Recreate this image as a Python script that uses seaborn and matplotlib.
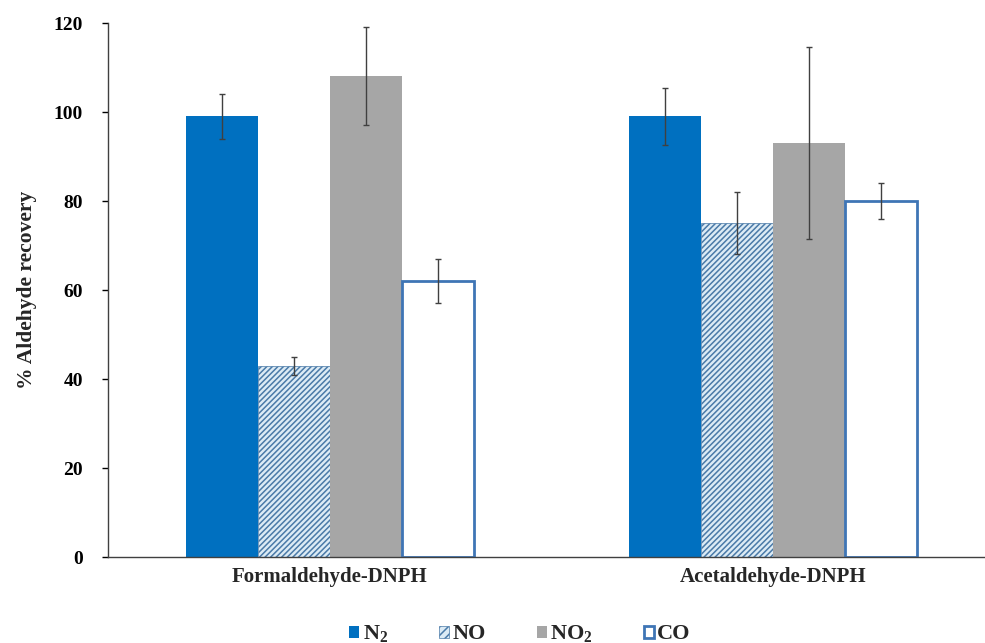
import matplotlib
matplotlib.use("Agg")
import matplotlib.pyplot as plt
import seaborn as sns
import pandas as pd
import numpy as np
from matplotlib.patches import Patch

categories = ["Formaldehyde-DNPH", "Acetaldehyde-DNPH"]
series = ["N$_2$", "NO", "NO$_2$", "CO"]
n2_vals = [99, 99]
no_vals = [43, 75]
no2_vals = [108, 93]
co_vals = [62, 80]
n2_err = [5, 6.5]
no_err = [2, 7]
no2_err = [11, 21.5]
co_err = [5, 4]
yticks = [0, 20, 40, 60, 80, 100, 120]

vals = [n2_vals, no_vals, no2_vals, co_vals]
errs = [n2_err, no_err, no2_err, co_err]
rows = []
for s, v, e in zip(series, vals, errs):
    for c, vv, ee in zip(categories, v, e):
        rows.append({"cat": c, "gas": s, "val": vv, "err": ee})
df = pd.DataFrame(rows)

sns.set_style("white")
plt.rcParams['font.family'] = ['Liberation Serif', 'DejaVu Serif']
plt.rcParams['mathtext.fontset'] = 'custom'
plt.rcParams['mathtext.rm'] = 'Liberation Serif:bold'
plt.rcParams['mathtext.it'] = 'Liberation Serif:bold'
plt.rcParams['mathtext.bf'] = 'Liberation Serif:bold'
plt.rcParams['hatch.linewidth'] = 1.1

fig = plt.figure(figsize=(9.85, 6.43), dpi=100)
ax = fig.add_axes([0.1096, 0.1337, 0.8904, 0.8305])

face = ["#0070C0", "#DCEBF5", "#A6A6A6", "white"]
edge = ["#0070C0", "#4A7AA8", "#A6A6A6", "#3F75B5"]
hatches = [None, "//////", None, None]
lws = [0, 0.5, 0, 2.0]

sns.barplot(data=df, x="cat", y="val", hue="gas", order=categories, hue_order=series,
            palette=face, width=0.65, errorbar=None, ax=ax, legend=False, saturation=1)

bar_containers = list(ax.containers)[:4]
for i, cont in enumerate(bar_containers):
    for j, bar in enumerate(list(cont.patches)):
        bar.set_facecolor(face[i])
        bar.set_edgecolor(edge[i])
        bar.set_linewidth(lws[i])
        if hatches[i]:
            bar.set_hatch(hatches[i])
        x = bar.get_x() + bar.get_width() / 2
        ax.errorbar(x, bar.get_height(), yerr=errs[i][j], fmt="none",
                    ecolor="#404040", elinewidth=1.0, capsize=2.5, capthick=1.0, zorder=5)

ax.set_xlim(-0.501, 1.479)
ax.set_ylim(0, 120)
ax.set_yticks(yticks)
ax.set_yticklabels([str(t) for t in yticks], fontsize=14, fontweight="bold")
ax.tick_params(axis="y", direction="out", length=4, width=1, colors="black", left=True, pad=14)
ax.tick_params(axis="x", length=0, pad=7)
for lab in ax.get_xticklabels():
    lab.set_fontsize(15)
    lab.set_fontweight("bold")
ax.set_xlabel("")
ax.set_ylabel("% Aldehyde recovery", fontsize=15.5, fontweight="bold", labelpad=12)

for s in ["top", "right"]:
    ax.spines[s].set_visible(False)
ax.spines["left"].set_color("#404040")
ax.spines["bottom"].set_color("#404040")
ax.spines["left"].set_linewidth(1)
ax.spines["bottom"].set_linewidth(1)

handles = [
    Patch(facecolor=face[0], edgecolor=edge[0], linewidth=0),
    Patch(facecolor=face[1], edgecolor=edge[1], hatch="////", linewidth=0.5),
    Patch(facecolor=face[2], edgecolor=edge[2], linewidth=0),
    Patch(facecolor="white", edgecolor=edge[3], linewidth=2),
]
leg = fig.legend(handles, series, loc="center", bbox_to_anchor=(0.528, 0.014), ncol=4,
                 frameon=False, prop={"weight": "bold", "size": 16},
                 handlelength=0.45, handleheight=0.45, handletextpad=0.15, columnspacing=2.3)

fig.savefig("out.png", dpi=100)
